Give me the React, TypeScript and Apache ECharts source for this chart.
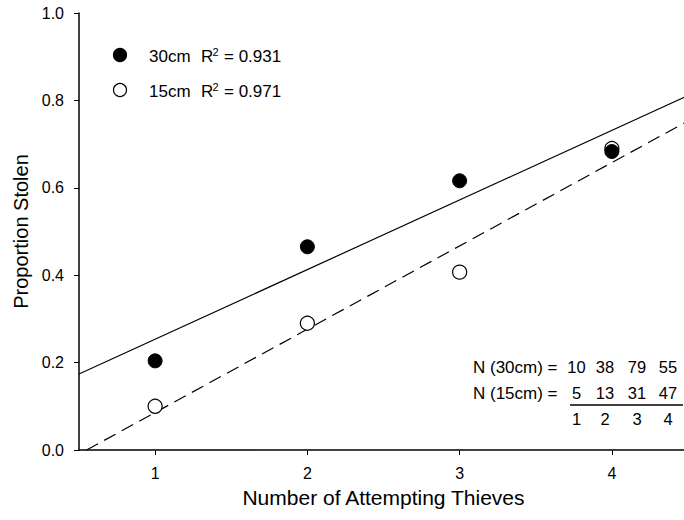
import React, { useEffect, useRef } from "react";
import * as echarts from "echarts";

const thieves = [1, 2, 3, 4];
const prop30 = [0.204, 0.465, 0.616, 0.683];
const prop15 = [0.1, 0.29, 0.407, 0.69];
// regression line end points: [x, y]
const fit30 = [[0.5, 0.174], [4.5, 0.811]];
const fit15 = [[0.55, 0], [4.5, 0.753]];
const n30 = [10, 38, 79, 55];
const n15 = [5, 13, 31, 47];
const legendLabels = ["30cm", "15cm"];
const r2Values = ["0.931", "0.971"];

const FONT = "'Liberation Sans', Arial, sans-serif";

export default function App() {
  const ref = useRef<HTMLDivElement>(null);
  useEffect(() => {
    if (!ref.current) return;
    const chart = echarts.init(ref.current, null, { renderer: "svg" });

    const graphics: any[] = [];
    // legend
    const legY = [55, 90];
    legendLabels.forEach((lab, i) => {
      graphics.push({
        type: "circle",
        shape: { cx: 120, cy: legY[i], r: 6.5 },
        style: { fill: i === 0 ? "#000" : "#fff", stroke: "#000", lineWidth: 1.2 },
      });
      graphics.push({
        type: "text", x: 149, y: legY[i] + 1,
        style: { text: lab, font: `17px ${FONT}`, fill: "#000", verticalAlign: "middle" },
      });
      graphics.push({
        type: "text", x: 201, y: legY[i] + 1,
        style: { text: "R", font: `17px ${FONT}`, fill: "#000", verticalAlign: "middle" },
      });
      graphics.push({
        type: "text", x: 212.5, y: legY[i] - 9,
        style: { text: "2", font: `11px ${FONT}`, fill: "#000", verticalAlign: "top" },
      });
      graphics.push({
        type: "text", x: 224, y: legY[i] + 1,
        style: { text: "= " + r2Values[i], font: `17px ${FONT}`, fill: "#000", verticalAlign: "middle" },
      });
    });

    // N table
    const colX = [576.5, 605, 637, 668];
    const rowY = [367, 393, 419];
    const rows = [
      { label: "N (30cm) =", vals: n30 },
      { label: "N (15cm) =", vals: n15 },
    ];
    rows.forEach((r, ri) => {
      graphics.push({
        type: "text", x: 473, y: rowY[ri],
        style: { text: r.label, font: `17px ${FONT}`, fill: "#000", verticalAlign: "middle" },
      });
      r.vals.forEach((v, ci) => {
        graphics.push({
          type: "text", x: colX[ci], y: rowY[ri],
          style: { text: String(v), font: `16.5px ${FONT}`, fill: "#000", align: "center", verticalAlign: "middle" },
        });
      });
    });
    thieves.forEach((t, ci) => {
      graphics.push({
        type: "text", x: colX[ci], y: rowY[2],
        style: { text: String(t), font: `16.5px ${FONT}`, fill: "#000", align: "center", verticalAlign: "middle" },
      });
    });
    graphics.push({
      type: "line",
      shape: { x1: 570, y1: 405, x2: 683, y2: 405 },
      style: { stroke: "#000", lineWidth: 1.5 },
    });

    chart.setOption({
      animation: false,
      backgroundColor: "#fff",
      textStyle: { fontFamily: FONT },
      grid: { left: 79, top: 13, width: 609, height: 437, outerBoundsMode: "none", containLabel: false },
      xAxis: {
        type: "value",
        min: 0.5,
        max: 4.5,
        name: "Number of Attempting Thieves",
        nameLocation: "middle",
        nameGap: 37,
        nameTextStyle: { fontSize: 21, color: "#000", fontFamily: FONT },
        axisLine: { show: true, onZero: false, lineStyle: { color: "#000", width: 1.5 } },
        axisTick: { show: true, inside: false, length: 5, customValues: thieves, lineStyle: { color: "#000", width: 1 } },
        axisLabel: { customValues: thieves, fontSize: 16, color: "#000", margin: 15, fontFamily: FONT },
        splitLine: { show: false },
      },
      yAxis: {
        type: "value",
        min: 0,
        max: 1,
        interval: 0.2,
        name: "Proportion Stolen",
        nameLocation: "middle",
        nameGap: 48,
        nameTextStyle: { fontSize: 20, color: "#000", fontFamily: FONT },
        axisLine: { show: true, onZero: false, lineStyle: { color: "#000", width: 1.5 } },
        axisTick: { show: true, inside: false, length: 5, lineStyle: { color: "#000", width: 1 } },
        axisLabel: {
          fontSize: 16, color: "#000", margin: 15, fontFamily: FONT,
          formatter: (v: number) => v.toFixed(1),
        },
        splitLine: { show: false },
      },
      series: [
        {
          type: "line",
          data: fit30,
          symbol: "none",
          lineStyle: { color: "#000", width: 1.2, type: "solid" },
          z: 1,
        },
        {
          type: "line",
          data: fit15,
          symbol: "none",
          lineStyle: { color: "#000", width: 1.2, type: [13, 7] },
          z: 1,
        },
        {
          type: "scatter",
          name: "15cm",
          data: thieves.map((t, i) => [t, prop15[i]]),
          symbol: "circle",
          symbolSize: 14,
          itemStyle: { color: "#fff", borderColor: "#000", borderWidth: 1.2, opacity: 1 },
          z: 3,
        },
        {
          type: "scatter",
          name: "30cm",
          data: thieves.map((t, i) => [t, prop30[i]]),
          symbol: "circle",
          symbolSize: 14,
          itemStyle: { color: "#000", borderColor: "#000", borderWidth: 1, opacity: 1 },
          z: 4,
        },
      ],
      graphic: graphics,
    });
    return () => chart.dispose();
  }, []);
  return <div ref={ref} style={{ width: 684, height: 520, position: "absolute", left: 0, top: 0 }} />;
}
